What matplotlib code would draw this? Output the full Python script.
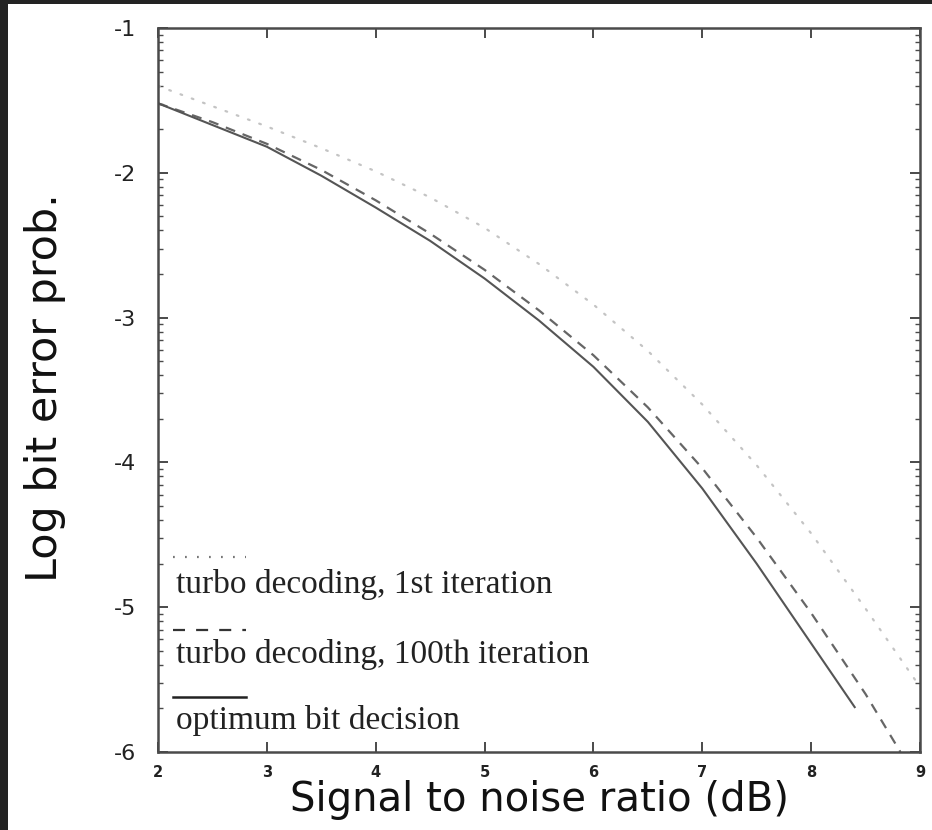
import numpy as np
import matplotlib
matplotlib.use("Agg")
import matplotlib.pyplot as plt
from matplotlib.patches import Rectangle

# ---- data ----
snr_first = [2.0, 2.5, 3.0, 3.5, 4.0, 4.5, 5.0, 5.5, 6.0, 6.5, 7.0, 7.5, 8.0, 8.5, 9.0]
ber_first = [-1.40, -1.54, -1.68, -1.83, -1.99, -2.17, -2.38, -2.63, -2.91, -3.23,
             -3.60, -4.02, -4.49, -5.01, -5.55]

snr_hundredth = [2.0, 2.5, 3.0, 3.5, 4.0, 4.5, 5.0, 5.5, 6.0, 6.5, 7.0, 7.5, 8.0, 8.5, 8.82]
ber_hundredth = [-1.52, -1.65, -1.80, -1.98, -2.19, -2.42, -2.67, -2.95, -3.26, -3.62,
                 -4.04, -4.52, -5.04, -5.60, -6.00]

snr_optimum = [2.0, 2.5, 3.0, 3.5, 4.0, 4.5, 5.0, 5.5, 6.0, 6.5, 7.0, 7.5, 8.0, 8.4]
ber_optimum = [-1.52, -1.67, -1.82, -2.02, -2.24, -2.47, -2.73, -3.02, -3.34, -3.72,
               -4.18, -4.70, -5.25, -5.69]

legend_labels = ["turbo decoding, 1st iteration",
                 "turbo decoding, 100th iteration",
                 "optimum bit decision"]
x_ticks = [2, 3, 4, 5, 6, 7, 8, 9]
y_ticks = [-1, -2, -3, -4, -5, -6]

# ---- figure ----
W, H = 932, 830
fig = plt.figure(figsize=(W / 100, H / 100), dpi=100)
fig.patch.set_facecolor("white")
# dark scan border on left and top
fig.patches.append(Rectangle((0, 0), 8 / W, 1, transform=fig.transFigure,
                             facecolor="#232323", edgecolor="none", zorder=0))
fig.patches.append(Rectangle((0, 1 - 4 / H), 1, 4 / H, transform=fig.transFigure,
                             facecolor="#232323", edgecolor="none", zorder=0))

left, right, bottom, top = 158 / W, 920 / W, 1 - 752 / H, 1 - 28 / H
ax = fig.add_axes([left, bottom, right - left, top - bottom])

ax.plot(snr_first, ber_first, color="#c4c4c4", lw=1.6, dashes=(0.8, 4.6),
        dash_capstyle="round")
ax.plot(snr_hundredth, ber_hundredth, color="#666666", lw=1.6, dashes=(4.5, 3.6))
ax.plot(snr_optimum, ber_optimum, color="#555555", lw=1.5)

ax.set_xlim(2, 9)
ax.set_ylim(-6, -1)

# major ticks
ax.set_xticks(x_ticks)
ax.set_yticks(y_ticks)
# log-style minor ticks on the y axis
minor_y = []
for d in range(1, 6):
    for k in range(2, 10):
        minor_y.append(-(d + 1) + np.log10(k))
ax.set_yticks(minor_y, minor=True)

for sp in ax.spines.values():
    sp.set_color("#4a4a4a")
    sp.set_linewidth(1.8)

ax.tick_params(axis="both", which="both", direction="in", top=True, right=True,
               color="#4a4a4a")
ax.tick_params(axis="x", which="major", length=7, width=1.4, labelsize=10.5,
               pad=9, labelcolor="#222222")
ax.tick_params(axis="y", which="major", length=7, width=1.4, labelsize=16,
               pad=16, labelcolor="#222222")
ax.tick_params(axis="y", which="minor", length=3.5, width=1.0)
ax.set_xticklabels([str(v) for v in x_ticks], fontweight="bold")
ax.set_yticklabels([str(v) for v in y_ticks])
for lbl in ax.get_yticklabels():
    lbl.set_horizontalalignment("right")

ax.set_xlabel("Signal to noise ratio (dB)", fontsize=29, color="#111111", labelpad=0)
ax.set_ylabel("Log bit error prob.", fontsize=31, color="#111111")
ax.yaxis.set_label_coords(-(158 - 66) / (920 - 158), (752 - 388) / (752 - 28))

# ---- legend drawn as in the original (sample line above each label) ----
def fx(px):
    return (px - 158) / (920 - 158)

def fy(py):
    return (752 - py) / (752 - 28)

samples = [
    dict(y=557, color="#777777", dashes=(0.8, 4.6), lw=1.6),
    dict(y=630, color="#333333", dashes=(5.4, 5.0), lw=1.6),
    dict(y=697, color="#222222", dashes=None, lw=1.8),
]
text_y = [584, 655, 720]
for s, lab, ty in zip(samples, legend_labels, text_y):
    kw = dict(color=s["color"], lw=s["lw"], transform=ax.transAxes, clip_on=False)
    if s["dashes"] is not None:
        kw["dashes"] = s["dashes"]
    ax.plot([fx(173), fx(246)], [fy(s["y"])] * 2, **kw)
    ax.text(fx(176), fy(ty), lab, transform=ax.transAxes, fontsize=24,
            family="Liberation Serif", va="center", ha="left", color="#222222")

fig.savefig("out.png", dpi=100, facecolor=fig.get_facecolor())
